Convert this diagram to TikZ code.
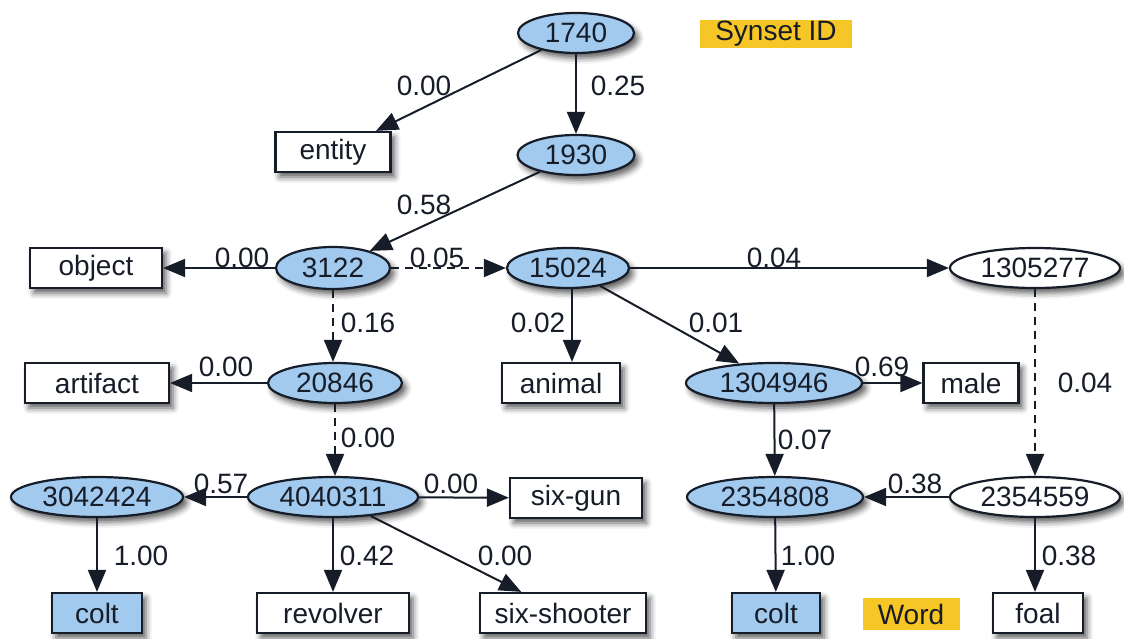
\documentclass[tikz,border=0pt]{standalone}
\usepackage{fontspec}
\setmainfont{Liberation Sans}
\usetikzlibrary{shapes.geometric,arrows.meta,shadows.blur}

\definecolor{synblue}{RGB}{162,202,238}
\definecolor{tagyellow}{RGB}{246,198,38}
\definecolor{ink}{RGB}{22,28,40}

\tikzset{
  base/.style={draw=ink, line width=2.2pt, text=ink, inner sep=0pt, minimum height=40pt,
    font=\fontsize{28}{32}\selectfont,
    blur shadow={shadow xshift=4pt, shadow yshift=-5pt, shadow blur radius=6pt, shadow opacity=65}},
  syn/.style={base, ellipse, fill=synblue},
  synw/.style={base, ellipse, fill=white},
  wrd/.style={base, rectangle, fill=white},
  wrdb/.style={base, rectangle, fill=synblue},
  tag/.style={rectangle, fill=tagyellow, text=ink, inner sep=0pt, minimum height=28pt,
    font=\fontsize{28}{32}\selectfont},
  lbl/.style={text=ink, inner sep=0pt, font=\fontsize{28}{32}\selectfont},
  arr/.style={draw=ink, line width=2pt, -{Triangle[length=22pt,width=18pt]}},
  darr/.style={arr, dash pattern=on 8pt off 6pt}
}

\begin{document}
\begin{tikzpicture}[x=1pt, y=-1pt]
\useasboundingbox (0,0) rectangle (1124,639);

% synsets and words
\node[syn, minimum width=116pt] (n1740) at (576,33) {1740};
\node[tag, minimum width=152pt] (synset) at (776,34) {Synset ID};
\node[wrd, minimum width=115pt] (entity) at (333,152) {entity};
\node[syn, minimum width=117pt] (n1930) at (576,155) {1930};

\node[wrd, minimum width=132pt] (object) at (96,268) {object};
\node[syn, minimum width=114pt, minimum height=42pt] (n3122) at (333,268) {3122};
\node[syn, minimum width=122pt] (n15024) at (568,268) {15024};
\node[synw, minimum width=170pt] (n1305277) at (1035,268) {1305277};

\node[wrd, minimum width=144pt] (artifact) at (97,383) {artifact};
\node[syn, minimum width=134pt] (n20846) at (335,383) {20846};
\node[wrd, minimum width=118pt] (animal) at (561,383) {animal};
\node[syn, minimum width=176pt] (n1304946) at (774,383) {1304946};
\node[wrd, minimum width=95pt] (male) at (971,383) {male};

\node[syn, minimum width=172pt] (n3042424) at (97,497) {3042424};
\node[syn, minimum width=170pt] (n4040311) at (333,497) {4040311};
\node[wrd, minimum width=132pt] (sixgun) at (576,498) {six-gun};
\node[syn, minimum width=176pt] (n2354808) at (775,497) {2354808};
\node[synw, minimum width=170pt] (n2354559) at (1035,497) {2354559};

\node[wrdb, minimum width=90pt] (colta) at (97,613) {colt};
\node[wrd, minimum width=152pt] (revolver) at (333,613) {revolver};
\node[wrd, minimum width=166pt] (sixshooter) at (563,613) {six-shooter};
\node[wrdb, minimum width=88pt] (coltb) at (776,613) {colt};
\node[tag, minimum width=97pt, minimum height=32pt] (word) at (911,614) {Word};
\node[wrd, minimum width=90pt] (foal) at (1038,613) {foal};

\coordinate (animtop) at ([xshift=11pt]animal.north);

% weighted links
\draw[arr] (n1740) -- (entity);
\draw[arr] (n1740) -- (n1930);
\draw[arr] (n1930) -- (n3122);
\draw[arr] (n3122) -- (object);
\draw[darr] (n3122) -- (n15024);
\draw[arr] (n15024) -- (n1305277);
\draw[darr] (n3122.south) -- (n3122.south |- n20846.north);
\draw[arr] (n15024.south -| animtop) -- (animtop);
\draw[arr] (n15024) -- (n1304946);
\draw[darr] (n1305277) -- (n2354559);
\draw[arr] (n20846) -- (artifact);
\draw[arr] (n1304946) -- (male);
\draw[darr] (n20846.south) -- (n20846.south |- n4040311.north);
\draw[arr] (n1304946) -- (n2354808);
\draw[arr] (n4040311) -- (n3042424);
\draw[arr] (n4040311) -- (sixgun);
\draw[arr] (n2354559) -- (n2354808);
\draw[arr] (n3042424) -- (colta);
\draw[arr] (n4040311) -- (revolver);
\draw[arr] (n4040311) -- (sixshooter);
\draw[arr] (n2354808) -- (coltb);
\draw[arr] (n2354559.south) -- (n2354559.south |- foal.north);

% link weights
\node[lbl] (w1) at (424,86) {0.00};
\node[lbl] (w2) at (618,86) {0.25};
\node[lbl] (w3) at (424,205) {0.58};
\node[lbl] (w4) at (242,258) {0.00};
\node[lbl] (w5) at (437,258) {0.05};
\node[lbl] (w6) at (774,258) {0.04};
\node[lbl] (w7) at (368,323) {0.16};
\node[lbl] (w8) at (538,323) {0.02};
\node[lbl] (w9) at (716,323) {0.01};
\node[lbl] (w10) at (226,367) {0.00};
\node[lbl] (w11) at (882,367) {0.69};
\node[lbl] (w12) at (1085,383) {0.04};
\node[lbl] (w13) at (368,438) {0.00};
\node[lbl] (w14) at (805,440) {0.07};
\node[lbl] (w15) at (221,484) {0.57};
\node[lbl] (w16) at (451,484) {0.00};
\node[lbl] (w17) at (915,484) {0.38};
\node[lbl] (w18) at (141,556) {1.00};
\node[lbl] (w19) at (367,556) {0.42};
\node[lbl] (w20) at (505,556) {0.00};
\node[lbl] (w21) at (808,556) {1.00};
\node[lbl] (w22) at (1069,556) {0.38};
\end{tikzpicture}
\end{document}
